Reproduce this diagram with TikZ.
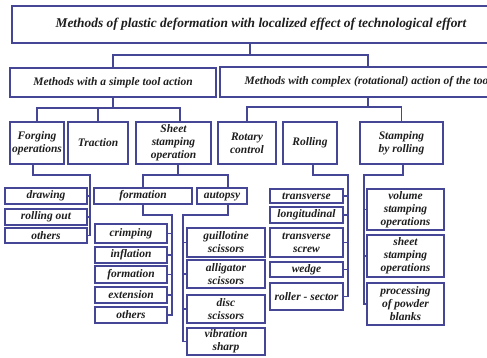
\documentclass[tikz,border=0pt]{standalone}
\usepackage{fontspec}
\setmainfont{Liberation Serif}
\usetikzlibrary{calc}
\definecolor{ln}{RGB}{70,70,150}
\definecolor{tx}{RGB}{30,30,30}
\tikzset{
  bx/.style={draw=ln, line width=1.5pt, inner sep=0pt, align=center,
    font=\bfseries\itshape\fontsize{11.5}{13}\selectfont, text=tx},
  cn/.style={draw=ln, line width=1.5pt}
}
\newcommand\bx[6]{\node[bx, minimum width={#4-#2}, minimum height={#5-#3}] (#1) at ({(#2+#4)/2},{(#3+#5)/2}) {#6};}
\begin{document}
\begin{tikzpicture}[x=1pt,y=-1pt]
\useasboundingbox (0,0) rectangle (487,357);
\clip (0,0) rectangle (487,357);
% level 1
\node[bx, minimum width=498, minimum height=37, font=\bfseries\itshape\fontsize{13.4}{15}\selectfont] (top) at (261,24.5) {Methods of plastic deformation with localized effect of technological effort};
% level 2
\bx{simple}{10}{68}{216}{97}{Methods with a simple tool action}
\bx{complex}{220}{67}{516}{97}{Methods with complex (rotational) action of the tool}
% level 3
\bx{forg}{10}{122}{64}{164}{Forging\\operations}
\bx{trac}{68}{122}{128}{164}{Traction}
\bx{sheet}{136}{122}{211}{164}{Sheet\\stamping\\operation}
\bx{rot}{218}{122}{276}{164}{Rotary\\control}
\bx{roll}{283}{122}{337}{164}{Rolling}
\bx{stamp}{360}{122}{443}{164}{Stamping\\by rolling}
% forging children
\bx{drw}{5}{188}{87}{204}{drawing}
\bx{rout}{5}{209}{87}{225}{rolling out}
\bx{othA}{5}{228}{87}{243}{others}
% sheet children
\bx{form}{94}{188}{192}{204}{formation}
\bx{autop}{197}{188}{247}{204}{autopsy}
\bx{crimp}{95}{224}{167}{243}{crimping}
\bx{infl}{95}{247}{167}{263}{inflation}
\bx{formB}{95}{266}{167}{283}{formation}
\bx{ext}{95}{287}{167}{303}{extension}
\bx{othB}{95}{307}{167}{323}{others}
\bx{guil}{187}{228}{265}{257}{guillotine\\scissors}
\bx{alli}{187}{260}{265}{288}{alligator\\scissors}
\bx{disc}{187}{295}{265}{323}{disc\\scissors}
\bx{vib}{187}{328}{265}{355}{vibration\\sharp}
% rolling children
\bx{trv}{270}{189}{343}{203}{transverse}
\bx{lng}{270}{207}{343}{223}{longitudinal}
\bx{trs}{270}{228}{343}{257}{transverse\\screw}
\bx{wdg}{270}{262}{343}{277}{wedge}
\bx{rsec}{270}{283}{343}{310}{roller - sector}
% stamping children
\bx{vol}{367}{189}{444}{230}{volume\\stamping\\operations}
\bx{shs}{367}{235}{444}{277}{sheet\\stamping\\operations}
\bx{pow}{367}{283}{444}{325}{processing\\of powder\\blanks}
% connectors level 1-2
\coordinate (j1) at (250,55);
\draw[cn] ($(top.south)+(-11,0)$) -- (j1);
\draw[cn] (simple.north) |- (j1) -| (complex.north);
% level 2-3 left
\coordinate (j2) at (113,108);
\draw[cn] (simple.south) -- (j2);
\draw[cn] (forg.north) |- (j2) -| ($(sheet.north)+(6.5,0)$);
\draw[cn] (trac.north) -- (trac.north |- j2);
% level 2-3 right
\coordinate (j3) at (368,107);
\draw[cn] (complex.south) -- (j3);
\draw[cn] (rot.north) |- (j3) -| (stamp.north);
\draw[cn] ($(roll.north)+(2,0)$) -- ($(roll.north)+(2,0)$ |- j3);
% forging children
\coordinate (b1) at (90,175);
\draw[cn] ($(forg.south)+(-4,0)$) |- (b1) -- (b1 |- othA.east) -- (othA.east);
\draw[cn] (drw.east) -- (drw.east -| b1);
\draw[cn] (rout.east) -- (rout.east -| b1);
% sheet children
\coordinate (j4) at (178,175);
\draw[cn] ($(sheet.south)+(4.5,0)$) -- (j4);
\draw[cn] (form.north) |- (j4) -| ($(autop.north)+(6,0)$);
% formation children
\coordinate (b2) at (172,215);
\draw[cn] (form.south) |- (b2) -- (b2 |- othB.east) -- (othB.east);
\foreach \n in {crimp,infl,formB,ext} \draw[cn] (\n.east) -- (\n.east -| b2);
% autopsy children
\coordinate (b3) at (183,215);
\draw[cn] ($(autop.south)+(6,0)$) |- (b3) -- (b3 |- vib.west) -- (vib.west);
\foreach \n in {guil,alli,disc} \draw[cn] (\n.west) -- (\n.west -| b3);
% rolling children
\coordinate (b4) at (348,175);
\draw[cn] ($(roll.south)+(3,0)$) |- (b4) -- (b4 |- rsec.east) -- (rsec.east);
\foreach \n in {trv,lng,trs,wdg} \draw[cn] (\n.east) -- (\n.east -| b4);
% stamping children
\coordinate (b5) at (364,175);
\draw[cn] ($(stamp.south)+(1.5,0)$) |- (b5) -- (b5 |- pow.west) -- (pow.west);
\foreach \n in {vol,shs} \draw[cn] (\n.west) -- (\n.west -| b5);
\end{tikzpicture}
\end{document}
